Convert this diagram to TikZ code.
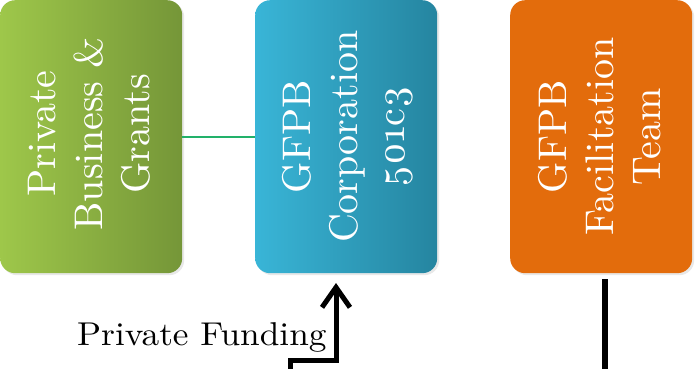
\documentclass[tikz,border=0pt]{standalone}
\usepackage{fontspec}
\setmainfont{lmroman10-regular.otf}
\usetikzlibrary{arrows.meta,shadows}
\definecolor{gL}{RGB}{158,199,74}
\definecolor{gR}{RGB}{117,150,56}
\definecolor{bL}{RGB}{57,181,215}
\definecolor{bR}{RGB}{37,133,160}
\definecolor{orng}{RGB}{227,108,12}
\definecolor{lnk}{RGB}{34,177,106}
\newcommand{\osnum}[1]{{\addfontfeature{Numbers=OldStyle}#1}}
\begin{document}
\begin{tikzpicture}[x=1pt,y=-1pt,
  card/.style={rounded corners=15pt, minimum width=182pt, minimum height=273pt,
    inner sep=0pt, anchor=north west,
    drop shadow={opacity=0.18, shadow xshift=2pt, shadow yshift=-2pt}},
  boxtext/.style={rotate=90, text=white, align=center, inner sep=0pt,
    font=\fontsize{40}{47}\selectfont},
  labeltext/.style={anchor=base west, inner sep=0pt, font=\fontsize{33}{40}\selectfont}]
\useasboundingbox (0,0) rectangle (697,369);
\node[card, left color=gL, right color=gR] (green) at (0,0) {};
\node[card, left color=bL, right color=bR] (blue) at (255,0) {};
\node[card, fill=orng] (orange) at (510,0) {};
\node[boxtext] (gtext) at ([xshift=-2pt,yshift=3pt]green.center) {Private\\Business \&\\Grants};
\node[boxtext] (btext) at ([xshift=2pt]blue.center) {GFPB\\Corporation\\\osnum{501c3}};
\node[boxtext] (otext) at ([xshift=-2pt]orange.center) {GFPB\\Facilitation\\Team};
\draw[lnk, line width=1.8pt] (green.east) -- (blue.west);
\node[labeltext] (pf) at (77,345) {\scalebox{1.07}[1]{Private Funding}};
\coordinate (fs) at (290,369);
\coordinate (fk1) at (290,360);
\coordinate (fk2) at (336,360);
\coordinate (ft) at (336,283);
\draw[line width=5pt, -{Straight Barb[length=20pt,width=28pt]}] (fs) -- (fk1) -- (fk2) -- (ft);
\coordinate (os) at (605,279);
\coordinate (oe) at (605,369);
\draw[line width=6pt] (os) -- (oe);
\end{tikzpicture}
\end{document}
